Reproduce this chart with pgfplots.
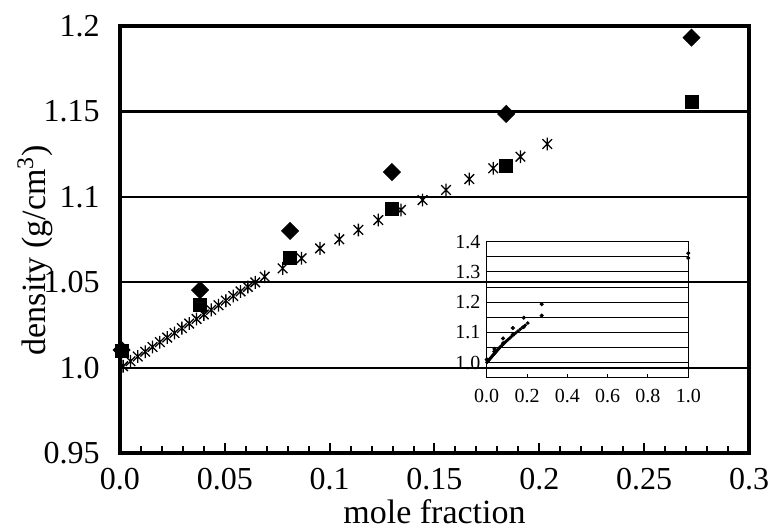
\documentclass[border=0pt]{standalone}
\usepackage{fontspec}
\setmainfont{Liberation Serif}
\usepackage{pgfplots}
\usepackage{pgfplotstable}
\pgfplotsset{compat=1.18}

% Excel-style star: an x with a vertical bar through it
\pgfdeclareplotmark{xstar}{%
  \pgfpathmoveto{\pgfqpoint{0pt}{\pgfplotmarksize}}%
  \pgfpathlineto{\pgfqpoint{0pt}{-\pgfplotmarksize}}%
  \pgfpathmoveto{\pgfqpoint{-0.75\pgfplotmarksize}{0.75\pgfplotmarksize}}%
  \pgfpathlineto{\pgfqpoint{0.75\pgfplotmarksize}{-0.75\pgfplotmarksize}}%
  \pgfpathmoveto{\pgfqpoint{-0.75\pgfplotmarksize}{-0.75\pgfplotmarksize}}%
  \pgfpathlineto{\pgfqpoint{0.75\pgfplotmarksize}{0.75\pgfplotmarksize}}%
  \pgfusepathqstroke}

\pgfplotstableread{
x y
0.0008 1.0103
0.0382 1.0454
0.0811 1.0800
0.1297 1.1145
0.1842 1.1485
0.2726 1.1932
}\diamonds

\pgfplotstableread{
x y
0.0008 1.0100
0.0382 1.0367
0.0811 1.0642
0.1297 1.0929
0.1842 1.1180
0.2726 1.1557
}\squares

\pgfplotstableread{
x y
0.0015 1.0008
0.0050 1.0037
0.0085 1.0065
0.0120 1.0093
0.0155 1.0121
0.0190 1.0149
0.0225 1.0176
0.0260 1.0203
0.0295 1.0231
0.0330 1.0258
0.0365 1.0285
0.0400 1.0311
0.0435 1.0338
0.0470 1.0365
0.0505 1.0392
0.0540 1.0419
0.0575 1.0446
0.0610 1.0472
0.0645 1.0499
0.0690 1.0532
0.0776 1.0581
0.0866 1.0640
0.0954 1.0698
0.1046 1.0751
0.1137 1.0806
0.1232 1.0864
0.1340 1.0923
0.1443 1.0981
0.1555 1.1040
0.1666 1.1104
0.1780 1.1167
0.1910 1.1235
0.2038 1.1309
}\stars

\begin{document}
\begin{tikzpicture}
\path[use as bounding box] (-60pt,-39pt) rectangle (325.5pt,226.5pt);

\begin{axis}[
    width=314.5pt, height=213.5pt,
    scale only axis,
    clip=false,
    xmin=0, xmax=0.3,
    ymin=0.95, ymax=1.2,
    xtick={0,0.05,0.1,0.15,0.2,0.25,0.3},
    xticklabels={0.0,0.05,0.1,0.15,0.2,0.25,0.3},
    minor x tick num=4,
    ytick={0.95,1,1.05,1.1,1.15,1.2},
    yticklabels={0.95,1.0,1.05,1.1,1.15,1.2},
    tick pos=left,
    tick align=inside,
    major tick length=4.8pt,
    minor tick length=3.5pt,
    tick style={line width=1pt, black},
    axis line style={line width=2pt},
    ymajorgrids,
    major grid style={line width=1.1pt, black},
    tick label style={font=\fontsize{16}{18}\selectfont, inner sep=0pt},
    xticklabel style={anchor=north, yshift=-7.5pt},
    yticklabel style={anchor=east, xshift=-10pt},
    xlabel={mole fraction},
    ylabel={density (g/cm\textsuperscript{3})},
    label style={font=\fontsize{17}{19}\selectfont},
    xlabel style={at={(axis description cs:0.5,-0.164)}, anchor=base},
    ylabel style={at={(axis description cs:-0.118,0.475)}, anchor=base},
]
\addplot[only marks, mark=xstar, mark size=3.2pt, mark options={line width=0.65pt}] table {\stars};
\addplot[only marks, mark=square*, mark size=3.3pt] table {\squares};
\addplot[only marks, mark=square*, mark size=3pt, mark options={rotate=45}] table {\diamonds};
\end{axis}

\begin{axis}[
    at={(183.35pt,37.65pt)}, anchor=south west,
    width=100.8pt, height=68pt,
    scale only axis,
    clip=false,
    xmin=0, xmax=1,
    ymin=0.95, ymax=1.4,
    xtick={0,0.2,0.4,0.6,0.8,1},
    xticklabels={0.0,0.2,0.4,0.6,0.8,1.0},
    ytick={0.95,1,1.05,1.1,1.15,1.2,1.25,1.3,1.35,1.4},
    yticklabels={,1.0,,1.1,,1.2,,1.3,,1.4},
    tick pos=left,
    tick align=inside,
    major tick length=2pt,
    xtick style={line width=0.5pt, black},
    ytick style={draw=none},
    axis line style={line width=0.6pt},
    ymajorgrids,
    major grid style={line width=0.5pt, black},
    tick label style={font=\fontsize{10}{11}\selectfont, inner sep=0pt},
    xticklabel style={anchor=north, yshift=-5.6pt},
    yticklabel style={anchor=east, xshift=-3pt},
]
\addplot[only marks, mark=*, mark size=0.7pt] table {\stars};
\addplot[only marks, mark=*, mark size=0.8pt] table {\squares};
\addplot[only marks, mark=*, mark size=0.8pt] table {\diamonds};
\addplot[only marks, mark=*, mark size=0.8pt] coordinates {(1.0,1.362) (1.0,1.346)};
\end{axis}
\end{tikzpicture}
\end{document}
